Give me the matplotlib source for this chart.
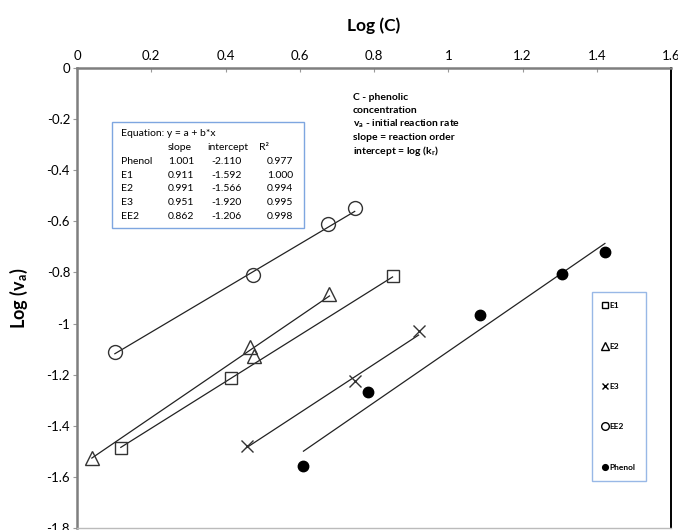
import matplotlib
matplotlib.use('Agg')
import matplotlib.pyplot as plt
from matplotlib.lines import Line2D
from matplotlib.patches import Rectangle
import numpy as np

# data
ee2_x = [0.102, 0.473, 0.675, 0.748]
ee2_y = [-1.110, -0.810, -0.612, -0.549]
e1_x = [0.118, 0.414, 0.850]
e1_y = [-1.488, -1.212, -0.814]
e2_x = [0.040, 0.465, 0.478, 0.680]
e2_y = [-1.527, -1.091, -1.126, -0.884]
e3_x = [0.457, 0.748, 0.920]
e3_y = [-1.480, -1.223, -1.030]
phenol_x = [0.610, 0.785, 1.086, 1.307, 1.422]
phenol_y = [-1.558, -1.266, -0.966, -0.806, -0.721]

# trendline table
fit_names = ['Phenol', 'E1', 'E2', 'E3', 'EE2']
fit_slope = [1.001, 0.911, 0.991, 0.951, 0.862]
fit_inter = [-2.110, -1.592, -1.566, -1.920, -1.206]
fit_r2 = [0.977, 1.000, 0.994, 0.995, 0.998]

xticks = [0, 0.2, 0.4, 0.6, 0.8, 1, 1.2, 1.4, 1.6]
xtick_labels = ['0', '0.2', '0.4', '0.6', '0.8', '1', '1.2', '1.4', '1.6']
yticks = [0, -0.2, -0.4, -0.6, -0.8, -1, -1.2, -1.4, -1.6, -1.8]
ytick_labels = ['0', '-0.2', '-0.4', '-0.6', '-0.8', '-1', '-1.2', '-1.4', '-1.6', '-1.8']

note_lines = ['C - phenolic', 'concentration', r'v$_\mathbf{a}$ - initial reaction rate',
              'slope = reaction order', r'intercept = log (k$_\mathbf{r}$)']

plt.rcParams['font.family'] = ['Lato', 'DejaVu Sans']
plt.rcParams['mathtext.fontset'] = 'custom'
plt.rcParams['mathtext.rm'] = 'Lato'
plt.rcParams['mathtext.it'] = 'Lato:italic'
plt.rcParams['mathtext.bf'] = 'Lato:bold'

W, H = 678, 530
fig = plt.figure(figsize=(W / 100, H / 100), dpi=100)


def px(x, y):
    return x / W, 1 - y / H


ax = fig.add_axes([77 / W, 1 - 528 / H, 594 / W, 460 / H])
ax.set_xlim(0, 1.6)
ax.set_ylim(-1.8, 0)

series = {
    'E1': (e1_x, e1_y, dict(marker='s', ms=8.5, mfc='none')),
    'E2': (e2_x, e2_y, dict(marker='^', ms=10, mfc='none')),
    'E3': (e3_x, e3_y, dict(marker='x', ms=8)),
    'EE2': (ee2_x, ee2_y, dict(marker='o', ms=10, mfc='none')),
    'Phenol': (phenol_x, phenol_y, dict(marker='o', ms=7.5, mfc='black', mec='black')),
}

for name, (xs, ys, st) in series.items():
    i = fit_names.index(name)
    lx = np.array([min(xs), max(xs)])
    ax.plot(lx, fit_inter[i] + fit_slope[i] * lx, color='#222222', lw=0.9)
    kw = dict(mec='#333333', mew=1.0, color='#333333')
    kw.update(st)
    ax.plot(xs, ys, ls='none', **kw)

ax.xaxis.tick_top()
ax.xaxis.set_label_position('top')
ax.set_xticks(xticks)
ax.set_xticklabels(xtick_labels)
ax.set_yticks(yticks)
ax.set_yticklabels(ytick_labels)
ax.tick_params(axis='both', labelsize=9.5, colors='#999999', labelcolor='black', length=3, width=0.8)
ax.tick_params(axis='x', direction='in', pad=4)
ax.tick_params(axis='y', direction='out', pad=2)

for s in ['left', 'top']:
    ax.spines[s].set_color('#7f7f7f')
    ax.spines[s].set_linewidth(1.8)
ax.spines['right'].set_color('black')
ax.spines['right'].set_linewidth(1.4)
ax.spines['bottom'].set_color('#bbbbbb')
ax.spines['bottom'].set_linewidth(1.0)

ax.set_xlabel('Log (C)', fontsize=12.5, fontweight='bold', labelpad=14)
ax.set_ylabel(r'Log (v$_\mathbf{a}$)', fontsize=13, fontweight='bold', labelpad=12)

# equation box
fig.patches.append(Rectangle(px(112, 228), 192 / W, 106 / H, transform=fig.transFigure,
                             fill=False, ec='#7ea6e0', lw=1.0))
fs = 7.5
y0 = 134
dy = 13.7
fig.text(*px(121, y0), 'Equation: y = a + b*x', fontsize=fs, va='center')
fig.text(*px(168, y0 + dy), 'slope', fontsize=fs, va='center')
fig.text(*px(207, y0 + dy), 'intercept', fontsize=fs, va='center')
fig.text(*px(259, y0 + dy), 'R²', fontsize=fs, va='center')
for k, nm in enumerate(fit_names):
    yy = y0 + dy * (k + 2)
    fig.text(*px(121, yy), nm, fontsize=fs, va='center')
    fig.text(*px(168, yy), '%.3f' % fit_slope[k], fontsize=fs, va='center')
    fig.text(*px(242, yy), '%.3f' % fit_inter[k], fontsize=fs, va='center', ha='right')
    fig.text(*px(293, yy), '%.3f' % fit_r2[k], fontsize=fs, va='center', ha='right')

# note text
for k, t in enumerate(note_lines):
    fig.text(*px(353, 97 + 13.5 * k), t, fontsize=7.5, fontweight='bold', va='center')

# legend
handles = []
labels = []
for name in ['E1', 'E2', 'E3', 'EE2', 'Phenol']:
    st = dict(series[name][2])
    st['ms'] = st['ms'] * 0.55
    kw = dict(mec='black', mew=1.0, color='black', ls='none')
    kw.update(st)
    handles.append(Line2D([], [], **kw))
    labels.append(name)
leg = fig.legend(handles, labels, loc='upper left', bbox_to_anchor=px(592, 292),
                 fontsize=6, frameon=True, fancybox=False, edgecolor='#7ea6e0',
                 labelspacing=4.0, handlelength=0.6, handletextpad=0.25,
                 borderpad=1.25, borderaxespad=0)
leg.get_frame().set_linewidth(1.0)
for t in leg.get_texts():
    t.set_fontweight('bold')

fig.savefig('out.png', dpi=100)
